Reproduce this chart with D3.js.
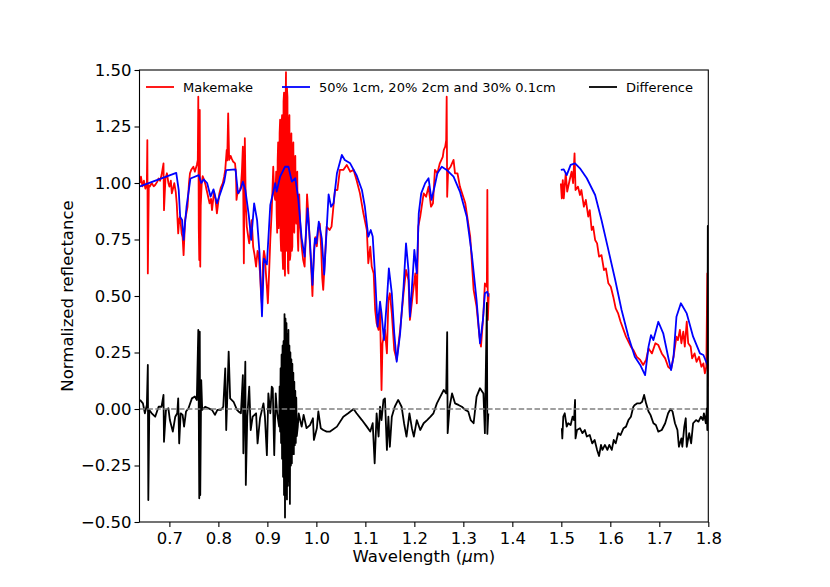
<!DOCTYPE html>
<html>
<head>
<meta charset="utf-8">
<script src="https://cdn.jsdelivr.net/npm/d3@7"></script>
<style>
  body { margin: 0; background: #fff; }
  svg { font-family: "DejaVu Sans", sans-serif; }
</style>
</head>
<body>
<svg id="chart" width="830" height="587"></svg>
<script>
// ── data (wavelength in µm, normalized reflectance) ──
// null marks the gap in wavelength coverage
const makemakeWl = [
  0.640,0.642,0.645,0.648,0.651,0.654,0.655,0.656,0.658,0.660,0.664,0.668,0.671,0.675,0.678,0.681,0.684,0.688,0.689,0.692,
  0.695,0.698,0.700,0.703,0.705,0.708,0.710,0.713,0.715,0.718,0.720,0.722,0.725,0.727,0.729,0.732,0.735,0.737,0.740,0.742,
  0.745,0.749,0.752,0.754,0.756,0.758,0.759,0.760,0.761,0.762,0.763,0.764,0.766,0.768,0.771,0.774,0.776,0.779,0.782,0.785,
  0.787,0.789,0.791,0.794,0.797,0.800,0.802,0.805,0.809,0.812,0.814,0.817,0.818,0.820,0.822,0.825,0.827,0.830,0.834,0.836,
  0.837,0.839,0.841,0.844,0.846,0.848,0.850,0.852,0.854,0.856,0.858,0.861,0.863,0.866,0.868,0.871,0.874,0.877,0.880,0.882,
  0.885,0.887,0.889,0.891,0.893,0.895,0.897,0.899,0.901,0.904,0.906,0.909,0.912,0.914,0.916,
  0.918,0.919,0.920,0.921,0.922,0.923,0.924,0.925,0.926,0.927,0.928,0.929,0.930,0.931,0.932,0.933,0.934,0.935,0.936,0.937,
  0.938,0.9385,0.939,0.940,0.941,0.942,0.943,0.944,0.945,0.946,0.947,0.948,0.949,0.950,0.951,0.952,0.953,0.954,0.955,0.956,
  0.957,0.958,0.959,0.960,0.961,0.962,0.963,0.965,
  0.967,0.970,0.973,0.976,0.979,0.981,0.984,0.987,0.990,0.992,0.995,0.998,1.001,1.004,1.007,1.010,1.012,1.014,
  1.021,1.027,1.031,1.038,1.043,1.048,1.055,1.062,1.069,1.076,1.082,1.089,1.096,1.103,1.106,1.110,1.113,1.117,1.120,1.123,
  1.127,1.130,1.133,1.135,1.140,1.144,1.147,1.150,1.154,1.159,1.164,1.171,1.178,1.183,1.188,1.191,1.197,1.202,1.205,1.208,
  1.212,1.215,1.219,1.224,1.229,1.234,1.238,1.242,1.247,1.252,1.258,1.260,1.263,1.265,1.266,1.267,1.269,1.274,1.280,1.283,
  1.288,1.293,1.304,1.314,1.321,1.327,1.333,1.336,1.341,1.344,1.348,1.349,1.350,1.352,
  1.42,
  1.499,1.501,1.503,1.505,1.509,1.512,1.517,1.521,1.524,1.527,1.529,1.534,1.538,1.541,1.546,1.550,1.555,1.558,1.562,1.565,
  1.569,1.573,1.577,1.582,1.587,1.591,1.596,1.601,1.606,1.611,1.616,1.621,1.627,1.632,1.637,1.642,1.647,1.654,1.661,1.667,
  1.673,1.678,1.685,1.692,1.698,1.705,1.712,1.718,1.724,1.729,1.735,1.738,1.742,1.745,1.749,1.752,1.756,1.759,1.764,1.767,
  1.772,1.776,1.781,1.786,1.790,1.793,1.796,1.798,1.800
];
const makemakeR = [
  1.000,1.028,0.985,1.010,0.975,1.000,1.190,0.600,0.990,0.984,1.000,0.985,0.991,1.005,1.020,1.010,1.035,1.087,0.880,1.020,
  1.043,1.000,0.984,1.010,0.954,0.980,0.999,0.960,0.910,0.777,0.840,0.851,0.777,0.760,0.681,0.836,0.870,0.895,1.000,1.043,
  1.060,1.072,1.050,1.065,1.080,1.102,1.382,0.800,0.659,1.323,0.630,0.900,0.999,1.030,1.013,0.990,0.969,0.940,0.910,0.930,
  0.880,0.920,0.962,0.930,0.866,0.920,0.954,0.980,0.999,1.030,1.058,1.146,1.100,1.308,1.102,1.120,1.109,1.095,1.087,1.040,
  0.925,0.960,0.954,0.970,0.984,1.050,1.161,0.645,1.198,0.900,0.807,0.760,0.733,0.800,0.836,0.718,0.680,0.630,0.700,0.689,
  0.600,0.512,0.460,0.645,0.700,0.674,0.600,0.541,0.468,0.630,0.750,0.880,1.072,0.950,0.925,
  1.050,0.860,0.780,1.100,1.180,0.800,0.850,1.220,1.280,0.760,0.700,1.250,1.300,0.680,0.620,1.360,1.400,0.640,0.590,1.300,
  1.490,0.700,0.750,1.420,1.380,0.620,0.600,1.250,1.300,0.660,0.680,1.180,1.220,0.700,0.720,1.150,1.180,0.800,0.780,1.080,
  1.120,0.850,0.820,1.020,1.050,0.760,0.700,0.950,
  0.820,0.720,0.660,0.630,0.800,0.950,0.850,0.720,0.600,0.500,0.700,0.760,0.720,0.800,0.820,0.700,0.580,0.527,
  0.807,0.792,0.807,0.969,0.969,1.058,1.058,1.080,1.050,1.058,1.013,0.954,0.866,0.792,0.645,0.718,0.630,0.600,0.438,0.379,
  0.350,0.438,0.084,0.290,0.350,0.246,0.482,0.512,0.423,0.261,0.217,0.350,0.512,0.615,0.571,0.394,0.512,0.600,0.468,0.807,
  0.851,0.895,0.954,0.939,0.984,0.895,0.910,1.058,1.043,1.087,1.116,1.146,1.161,1.190,1.382,0.939,1.058,1.072,1.102,1.043,
  1.043,0.984,0.910,0.763,0.527,0.453,0.320,0.276,0.423,0.556,0.541,0.969,0.394,0.512,
  null,
  0.998,0.932,1.013,0.932,1.043,0.962,1.013,1.050,0.999,1.131,0.969,0.984,0.947,0.969,0.895,0.925,0.851,0.880,0.792,0.807,
  0.748,0.733,0.674,0.681,0.615,0.622,0.556,0.541,0.497,0.445,0.423,0.386,0.350,0.320,0.298,0.276,0.261,0.231,0.217,0.195,
  0.217,0.268,0.246,0.291,0.283,0.246,0.224,0.187,0.176,0.231,0.320,0.305,0.350,0.291,0.342,0.276,0.386,0.291,0.276,0.224,
  0.246,0.209,0.231,0.187,0.202,0.158,0.187,0.600,0.100
];

const modelWl = [
  0.640,0.714,0.719,0.722,0.726,0.729,0.735,0.743,0.760,0.765,0.770,0.777,0.784,0.790,0.797,0.804,0.812,0.816,0.835,0.840,
  0.845,0.850,0.855,0.862,0.867,0.873,0.879,0.884,0.889,0.893,0.899,0.906,0.916,0.919,0.926,0.936,0.943,0.950,0.957,0.963,
  0.970,0.976,0.982,0.987,0.992,0.997,1.000,1.005,1.011,1.016,1.020,1.025,1.030,1.035,1.042,1.052,1.058,1.069,1.082,1.093,
  1.099,1.106,1.111,1.115,1.120,1.125,1.130,1.133,1.138,1.144,1.148,1.154,1.159,1.164,1.171,1.178,1.183,1.188,1.191,1.197,
  1.200,1.205,1.209,1.214,1.222,1.229,1.235,1.242,1.247,1.256,1.266,1.280,1.293,1.307,1.317,1.327,1.334,1.340,1.344,1.349,
  1.351,
  1.42,
  1.499,1.505,1.511,1.519,1.528,1.538,1.552,1.569,1.582,1.596,1.610,1.623,1.637,1.650,1.661,1.671,1.678,1.683,1.688,1.698,
  1.708,1.718,1.724,1.729,1.735,1.744,1.756,1.769,1.783,1.790,1.797,1.800
];
const modelR = [
  0.985,1.045,0.970,0.850,0.836,0.748,0.895,1.020,1.035,1.000,1.016,1.000,0.940,0.972,0.910,0.955,1.006,1.057,1.060,0.955,
  0.970,1.006,0.970,0.858,0.748,0.910,0.836,0.690,0.410,0.665,0.640,0.903,0.999,0.962,1.028,1.072,1.072,1.006,1.021,0.932,
  0.755,0.674,0.888,0.740,0.549,0.755,0.733,0.829,0.755,0.595,0.755,0.950,0.895,0.910,1.043,1.124,1.102,1.087,1.035,0.969,
  0.895,0.763,0.792,0.763,0.585,0.364,0.475,0.423,0.305,0.482,0.622,0.512,0.335,0.209,0.335,0.541,0.733,0.615,0.408,0.600,
  0.704,0.600,0.866,0.954,0.999,1.021,0.925,0.991,1.043,1.072,1.058,1.028,0.962,0.851,0.690,0.482,0.290,0.394,0.512,0.519,
  0.497,
  null,
  1.058,1.060,1.035,1.080,1.087,1.065,1.021,0.947,0.836,0.704,0.571,0.438,0.320,0.231,0.195,0.150,0.276,0.327,0.305,0.386,
  0.335,0.231,0.172,0.231,0.408,0.468,0.423,0.320,0.246,0.239,0.202,0.190
];

const diffWl = [
  0.640,0.646,0.650,0.654,0.656,0.657,0.659,0.664,0.671,0.678,0.684,0.688,0.689,0.693,0.698,0.701,0.707,0.712,0.716,0.718,
  0.720,0.723,0.727,0.730,0.734,0.739,0.746,0.752,0.756,0.759,0.761,0.762,0.763,0.765,0.767,0.773,0.780,0.787,0.793,0.798,
  0.805,0.810,0.814,0.816,0.818,0.821,0.824,0.831,0.838,0.841,0.846,0.850,0.851,0.855,0.856,0.859,0.863,0.866,0.870,0.877,
  0.880,0.885,0.892,0.895,0.899,0.902,0.906,0.909,0.911,0.914,0.917,0.920,0.924,
  0.925,0.926,0.927,0.928,0.929,0.930,0.931,0.932,0.933,0.934,0.935,0.936,0.937,0.938,0.939,0.940,0.941,0.942,0.943,0.944,
  0.945,0.946,0.947,0.948,0.949,0.950,0.951,0.952,0.953,0.954,0.955,0.956,0.957,0.958,0.959,0.960,0.962,0.964,0.967,
  0.970,0.974,0.980,0.987,0.993,0.995,1.001,1.004,1.009,1.014,1.021,1.028,
  1.042,1.055,1.065,1.076,1.082,1.093,1.103,1.110,1.115,1.119,1.123,1.127,1.130,1.133,1.137,1.140,1.144,1.147,1.150,1.154,
  1.160,1.167,1.174,1.179,1.184,1.190,1.195,1.199,1.205,1.212,1.219,1.226,1.233,1.239,1.246,1.253,1.260,1.265,1.267,1.268,
  1.272,1.277,1.283,1.290,1.297,1.304,1.310,1.315,1.321,1.327,1.334,1.341,1.344,1.348,1.349,1.351,
  1.42,
  1.501,1.502,1.504,1.507,1.511,1.514,1.519,1.523,1.526,1.528,1.529,1.532,1.538,1.543,1.548,1.552,1.558,1.563,1.568,1.573,
  1.577,1.581,1.584,1.589,1.594,1.598,1.603,1.607,1.611,1.616,1.621,1.627,1.632,1.637,1.642,1.647,1.650,1.655,1.661,1.665,
  1.669,1.673,1.678,1.682,1.688,1.693,1.698,1.705,1.712,1.718,1.723,1.727,1.732,1.737,1.740,1.745,1.747,1.751,1.754,1.756,
  1.761,1.765,1.769,1.775,1.780,1.785,1.789,1.791,1.795,1.797,1.798,1.799,1.800
];
const diffR = [
  0.040,0.025,-0.019,0.018,0.195,-0.403,-0.004,-0.019,-0.034,0.010,0.010,0.062,-0.145,-0.004,0.003,-0.049,-0.100,-0.034,-0.019,0.047,
  -0.152,-0.019,-0.026,-0.078,-0.011,0.003,0.047,0.055,0.040,0.350,-0.395,0.342,-0.381,0.128,-0.004,0.010,0.003,-0.004,-0.026,-0.004,
  -0.004,0.010,0.180,-0.093,0.040,0.254,0.047,0.032,-0.004,-0.011,-0.019,0.150,-0.196,0.209,-0.336,-0.034,0.099,-0.093,-0.034,-0.019,
  -0.152,-0.041,0.025,-0.034,-0.204,0.069,-0.019,0.099,0.092,-0.204,0.069,-0.019,-0.078,
  0.100,-0.100,0.180,-0.150,0.240,-0.220,0.280,-0.300,0.300,-0.380,0.420,-0.480,0.400,-0.380,0.380,-0.400,0.330,-0.340,0.350,-0.320,
  0.280,-0.420,0.250,-0.250,0.220,-0.240,0.200,-0.200,0.160,-0.200,0.120,-0.160,0.080,-0.150,0.050,-0.120,-0.080,-0.020,-0.050,
  -0.078,-0.026,-0.085,-0.071,-0.041,-0.137,-0.085,-0.011,-0.085,-0.093,-0.100,-0.100,
  -0.078,-0.034,-0.019,0.000,-0.019,-0.049,-0.078,-0.100,-0.063,-0.240,-0.019,-0.122,0.010,-0.049,0.040,0.047,-0.181,-0.034,-0.167,-0.034,
  0.010,0.040,0.010,-0.063,-0.122,-0.019,-0.085,-0.122,-0.049,-0.093,-0.063,-0.049,-0.034,-0.019,0.025,0.055,0.084,0.069,0.340,-0.107,
  0.010,0.069,0.025,0.018,0.010,-0.004,-0.011,-0.049,-0.063,0.055,0.092,0.069,-0.107,0.470,-0.110,-0.020,
  null,
  -0.085,-0.130,-0.034,-0.019,-0.078,-0.063,-0.071,-0.034,-0.049,0.040,-0.130,-0.093,-0.085,-0.107,-0.093,-0.122,-0.115,-0.152,-0.137,-0.181,
  -0.208,-0.159,-0.181,-0.159,-0.181,-0.159,-0.181,-0.137,-0.152,-0.107,-0.115,-0.085,-0.078,-0.049,-0.034,0.010,0.018,0.025,0.025,0.032,
  0.062,0.025,-0.011,-0.026,-0.063,-0.071,-0.100,-0.093,-0.063,-0.019,0.000,-0.011,-0.063,-0.093,-0.167,-0.130,-0.167,-0.078,-0.041,-0.167,
  -0.107,-0.152,-0.063,-0.049,-0.056,-0.034,-0.049,-0.019,-0.063,0.003,-0.093,0.810,-0.050
];

const xTicks = [0.7, 0.8, 0.9, 1.0, 1.1, 1.2, 1.3, 1.4, 1.5, 1.6, 1.7, 1.8];
const yTicks = [-0.5, -0.25, 0, 0.25, 0.5, 0.75, 1.0, 1.25, 1.5];
const seriesNames = ["Makemake", "50% 1cm, 20% 2cm and 30% 0.1cm", "Difference"];
const seriesColors = ["#ff0000", "#0000ff", "#000000"];

// ── layout ──
const svg = d3.select("#chart");
const margin = { top: 70, right: 121.7, bottom: 65, left: 139.5 };
const W = 830 - margin.left - margin.right;
const H = 587 - margin.top - margin.bottom;

const x = d3.scaleLinear().domain([0.639, 1.8]).range([0, W]);
const y = d3.scaleLinear().domain([-0.5, 1.5]).range([H, 0]);

const g = svg.append("g").attr("transform", `translate(${margin.left},${margin.top})`);

const zip = (a, b) => a.map((w, i) => [w, b[i]]);
const line = d3.line()
  .defined(d => d[1] != null)
  .x(d => x(d[0]))
  .y(d => y(d[1]));

g.append("defs").append("clipPath").attr("id", "clip")
  .append("rect").attr("width", W).attr("height", H);

const plot = g.append("g").attr("clip-path", "url(#clip)");

[zip(makemakeWl, makemakeR), zip(modelWl, modelR), zip(diffWl, diffR)].forEach((data, i) => {
  plot.append("path")
    .datum(data)
    .attr("fill", "none")
    .attr("stroke", seriesColors[i])
    .attr("stroke-width", 1.8)
    .attr("stroke-linejoin", "round")
    .attr("d", line);
});

// zero reference line
plot.append("line")
  .attr("x1", 0).attr("x2", W)
  .attr("y1", y(0)).attr("y2", y(0))
  .attr("stroke", "#808080")
  .attr("stroke-width", 1.5)
  .attr("stroke-dasharray", "5.5,2.4");

// ── axes ──
const xAxis = g.append("g")
  .attr("transform", `translate(0,${H})`)
  .call(d3.axisBottom(x).tickValues(xTicks).tickFormat(d3.format(".1f")).tickSize(5).tickPadding(5));
const yAxis = g.append("g")
  .call(d3.axisLeft(y).tickValues(yTicks).tickFormat(d3.format(".2f")).tickSize(5).tickPadding(3));

[xAxis, yAxis].forEach(a => {
  a.select(".domain").remove();
  a.selectAll(".tick line").attr("stroke", "#000").attr("stroke-width", 1.1);
  a.selectAll(".tick text")
    .attr("fill", "#000")
    .style("font-family", "DejaVu Sans, sans-serif")
    .style("font-size", "16.5px");
});
yAxis.selectAll(".tick text").text(d => d.toFixed(2).replace("-", "\u2212"));

g.append("rect")
  .attr("width", W).attr("height", H)
  .attr("fill", "none")
  .attr("stroke", "#000")
  .attr("stroke-width", 1.1);

// axis labels
const xl = g.append("text")
  .attr("x", W / 2).attr("y", H + 40)
  .attr("text-anchor", "middle")
  .style("font-size", "16.5px")
  .text("Wavelength (");
xl.append("tspan").style("font-style", "italic").text("\u03bc");
xl.append("tspan").text("m)");

g.append("text")
  .attr("transform", `translate(${73 - margin.left},${H / 2}) rotate(-90)`)
  .attr("text-anchor", "middle")
  .style("font-size", "16.5px")
  .text("Normalized reflectance");

// ── legend ──
const legendX = [146, 282, 589];
const legend = svg.append("g");
seriesNames.forEach((name, i) => {
  legend.append("line")
    .attr("x1", legendX[i]).attr("x2", legendX[i] + 28)
    .attr("y1", 87).attr("y2", 87)
    .attr("stroke", seriesColors[i])
    .attr("stroke-width", 1.8);
  legend.append("text")
    .attr("x", legendX[i] + 37).attr("y", 87)
    .attr("dy", "0.36em")
    .style("font-size", "13px")
    .text(name);
});
</script>
</body>
</html>
